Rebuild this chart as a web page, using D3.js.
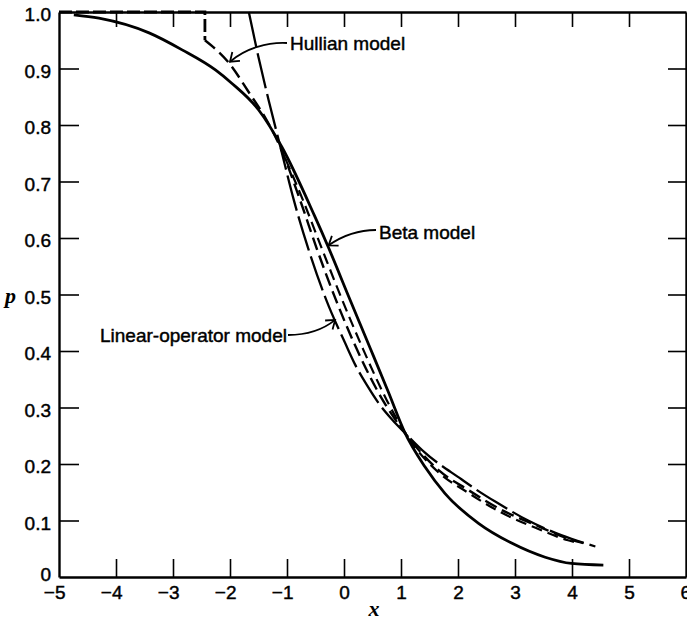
<!DOCTYPE html>
<html>
<head>
<meta charset="utf-8">
<script src="https://cdn.jsdelivr.net/npm/d3@7"></script>
<style>
  html, body { margin: 0; padding: 0; background: #fff; }
  svg { display: block; }
  .lbl { font-family: "Liberation Sans", Arial, Helvetica, sans-serif; font-size: 19px; fill: #000; stroke: #000; stroke-width: 0.45px; }
  .var { font-family: "Liberation Serif", "Times New Roman", serif; font-style: italic; font-weight: bold; font-size: 22px; fill: #000; }
</style>
</head>
<body>
<svg id="chart" width="687" height="621"></svg>
<script>
// Tick values and labels
const xTickValues = [-5, -4, -3, -2, -1, 0, 1, 2, 3, 4, 5, 6];
const xTickLabels = ["\u22125", "\u22124", "\u22123", "\u22122", "\u22121", "0", "1", "2", "3", "4", "5", "6"];
const yTickValues = [0, 0.1, 0.2, 0.3, 0.4, 0.5, 0.6, 0.7, 0.8, 0.9, 1.0];
const yTickLabels = ["0", "0.1", "0.2", "0.3", "0.4", "0.5", "0.6", "0.7", "0.8", "0.9", "1.0"];

// Beta model (solid)
const betaX = [-4.74, -4.3, -3.42, -2.84, -2.25, -1.97, -1.5, -1.09, -0.52, -0.28, 0.08, 0.46, 0.78, 1.07, 1.42, 1.77, 2.36, 2.94, 3.53, 3.99, 4.55];
const betaP = [0.995, 0.989, 0.963, 0.933, 0.897, 0.874, 0.827, 0.761, 0.640, 0.585, 0.497, 0.405, 0.327, 0.255, 0.195, 0.148, 0.095, 0.060, 0.035, 0.024, 0.021];

// Linear-operator model (long dashes)
const linOpX = [-1.67, -1.5, -1.32, -1.11, -0.88, -0.62, -0.31, 0.02, 0.2, 0.4, 0.62, 0.85, 1.07, 1.41, 2.06, 2.36, 2.66, 3.23, 3.81, 4.41];
const linOpP = [1.0, 0.92, 0.843, 0.759, 0.667, 0.579, 0.49, 0.414, 0.375, 0.34, 0.306, 0.278, 0.255, 0.221, 0.173, 0.152, 0.133, 0.100, 0.074, 0.054];

// Hullian model (dashed): plateau at 1, drop, then decline
const hullX = [-5, -2.44, -2.44, -2.02, -1.67, -1.36, -1.11, -0.77, -0.47, -0.14, 0.23, 0.68, 1.07, 1.66, 2.18, 2.76, 3.36, 3.93, 4.2];
const hullP = [1.0, 1.0, 0.95, 0.91, 0.858, 0.809, 0.759, 0.667, 0.579, 0.49, 0.402, 0.313, 0.255, 0.189, 0.154, 0.119, 0.092, 0.068, 0.060];

// Companion dashed curve beside the Hullian curve
const hull2X = [-1.11, -0.72, -0.38, -0.03, 0.34, 0.75, 1.07, 1.66, 2.18, 2.76, 3.36, 3.93, 4.12];
const hull2P = [0.759, 0.667, 0.579, 0.49, 0.402, 0.313, 0.255, 0.185, 0.149, 0.114, 0.087, 0.065, 0.060];

const seriesNames = ["Hullian model", "Beta model", "Linear-operator model"];

const zip = (xs, ps) => xs.map((v, i) => ({ x: v, p: ps[i] }));

const svg = d3.select("#chart");
const x = d3.scaleLinear().domain([-5, 6]).range([59, 686]);
const y = d3.scaleLinear().domain([0, 1]).range([577, 12]);

// Bottom axis with inward ticks
const gx = svg.append("g")
  .attr("transform", `translate(0,${y(0)})`)
  .call(d3.axisBottom(x).tickValues(xTickValues).tickSizeInner(-18).tickSizeOuter(0).tickPadding(9)
    .tickFormat((d, i) => xTickLabels[i]));
gx.select(".domain").attr("stroke-width", 2.6);
gx.selectAll(".tick").filter(d => d === -5 || d === 6).select("line").remove();
gx.selectAll(".tick line").attr("stroke-width", 1.6);
gx.selectAll(".tick text")
  .attr("class", "lbl")
  .attr("text-anchor", d => d < 0 ? "end" : (d === 6 ? "start" : "middle"))
  .attr("x", d => d < 0 ? 6 : (d === 6 ? -6 : 0));
gx.attr("font-size", null).attr("font-family", null);

// Left axis
const gy = svg.append("g")
  .attr("transform", `translate(${x(-5)},0)`)
  .call(d3.axisLeft(y).tickValues(yTickValues).tickSizeInner(-20).tickSizeOuter(0).tickPadding(8)
    .tickFormat((d, i) => yTickLabels[i]));
gy.select(".domain").attr("stroke-width", 2.4);
gy.selectAll(".tick").filter(d => d === 0 || d === 1).select("line").remove();
gy.selectAll(".tick line").attr("stroke-width", 1.6);
gy.selectAll(".tick text")
  .attr("class", "lbl")
  .attr("dy", d => d === 0 ? "0.16em" : "0.45em");
gy.attr("font-size", null).attr("font-family", null);

// Top axis (ticks only)
const gt = svg.append("g")
  .attr("transform", `translate(0,${y(1)})`)
  .call(d3.axisTop(x).tickValues(xTickValues.slice(1, -1)).tickSizeInner(-15).tickSizeOuter(0).tickFormat(""));
gt.select(".domain").attr("stroke-width", 2.6);
gt.selectAll(".tick line").attr("stroke-width", 1.6);

// Right axis (ticks only)
const gr = svg.append("g")
  .attr("transform", `translate(${x(6)},0)`)
  .call(d3.axisRight(y).tickValues(yTickValues.slice(1, -1)).tickSizeInner(-18).tickSizeOuter(0).tickFormat(""));
gr.select(".domain").attr("stroke-width", 2.4);
gr.selectAll(".tick line").attr("stroke-width", 1.6);

// Curves
const smooth = d3.line().x(d => x(d.x)).y(d => y(d.p)).curve(d3.curveMonotoneX);
const straight = d3.line().x(d => x(d.x)).y(d => y(d.p));

const curves = svg.append("g").attr("fill", "none").attr("stroke", "#000").attr("stroke-linecap", "butt");

curves.append("path")
  .attr("d", smooth(zip(betaX, betaP)))
  .attr("stroke-width", 2.8);

curves.append("path")
  .attr("d", smooth(zip(linOpX, linOpP)))
  .attr("stroke-width", 2.3)
  .attr("stroke-dasharray", "36,6");

const hullPts = zip(hullX, hullP);
curves.append("path")
  .attr("d", straight(hullPts.slice(0, 3)))
  .attr("stroke-width", 2.8)
  .attr("stroke-dasharray", "13,4");
curves.append("path")
  .attr("d", smooth(hullPts.slice(2)))
  .attr("stroke-width", 2.4)
  .attr("stroke-dasharray", "13,6");

curves.append("path")
  .attr("d", smooth(zip(hull2X, hull2P)))
  .attr("stroke-width", 2.2)
  .attr("stroke-dasharray", "11,6")
  .attr("stroke-dashoffset", 5);

// Annotations with curved arrows
const notes = [
  { text: seriesNames[0], tx: 290, ty: 49.5, from: [287, 43], c1: [268, 42], c2: [246, 48], tip: [-2.0, 0.912] },
  { text: seriesNames[1], tx: 379, ty: 238.5, from: [376, 230], c1: [358, 230], c2: [342, 236], tip: [-0.27, 0.587] },
  { text: seriesNames[2], tx: 100, ty: 341.5, from: [288, 335], c1: [308, 335], c2: [324, 329], tip: [-0.156, 0.455] }
];

const ann = svg.append("g");
notes.forEach(n => {
  ann.append("text").attr("class", "lbl").attr("x", n.tx).attr("y", n.ty).text(n.text);
  const tx = x(n.tip[0]), ty = y(n.tip[1]);
  const p = d3.path();
  p.moveTo(n.from[0], n.from[1]);
  p.bezierCurveTo(n.c1[0], n.c1[1], n.c2[0], n.c2[1], tx, ty);
  ann.append("path").attr("d", p.toString()).attr("fill", "none").attr("stroke", "#000").attr("stroke-width", 1.8);
  const ang = Math.atan2(ty - n.c2[1], tx - n.c2[0]);
  const len = 10, spread = Math.PI / 5;
  const b1 = [tx - len * Math.cos(ang - spread), ty - len * Math.sin(ang - spread)];
  const b2 = [tx - len * Math.cos(ang + spread), ty - len * Math.sin(ang + spread)];
  ann.append("path")
    .attr("d", `M${b1[0]},${b1[1]}L${tx},${ty}L${b2[0]},${b2[1]}`)
    .attr("fill", "none").attr("stroke", "#000").attr("stroke-width", 1.8);
});

// Axis variable names
svg.append("text").attr("class", "var").attr("x", 5).attr("y", 303).text("p");
svg.append("text").attr("class", "var").attr("x", 374).attr("y", 616).attr("text-anchor", "middle").text("x");
</script>
</body>
</html>
